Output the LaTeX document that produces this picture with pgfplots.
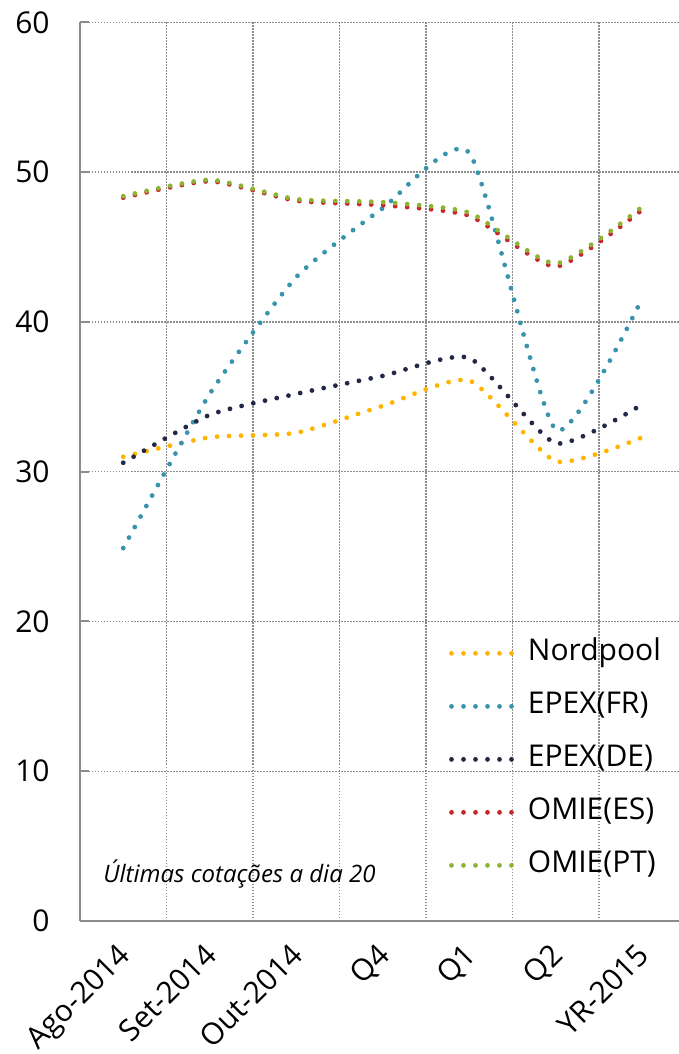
\documentclass[border=0pt]{standalone}
\usepackage{fontspec}
\setmainfont{Open Sans}
\usepackage{pgfplots}
\pgfplotsset{compat=1.18}
\usepackage{pgfplotstable}
\definecolor{cNord}{RGB}{255,180,0}
\definecolor{cFR}{RGB}{55,148,172}
\definecolor{cDE}{RGB}{35,40,70}
\definecolor{cES}{RGB}{200,40,45}
\definecolor{cPT}{RGB}{140,180,50}
\definecolor{gridgray}{RGB}{140,140,140}
\pgfplotstableread{
x nord fr de es pt
0 31.0 24.9 30.6 48.3 48.4
1 32.3 35.2 33.8 49.4 49.5
2 32.6 43.0 35.2 48.1 48.2
3 34.4 47.6 36.4 47.8 48.0
4 36.1 51.3 37.6 47.1 47.3
5 30.7 32.8 31.9 43.7 43.9
6 32.3 41.6 34.5 47.5 47.7
}\data
\begin{document}
\begin{tikzpicture}
\begin{axis}[name=ax, scale only axis, width=299.75pt, height=449.25pt,
  xmin=-0.5, xmax=6.43, ymin=0, ymax=60,
  axis x line*=bottom, axis y line*=left,
  axis line style={draw=gridgray, line width=1pt, -},
  xtick={0,...,6},
  xticklabels={Ago-2014,Set-2014,Out-2014,Q4,Q1,Q2,YR-2015},
  minor xtick={0.5,1.5,2.5,3.5,4.5,5.5},
  xtick style={draw=none},
  ytick={0,10,...,60},
  ytick style={draw=gridgray, line width=1pt},
  tick align=inside, major tick length=4.5pt,
  xminorgrids=true, ymajorgrids=true, xmajorgrids=false,
  minor x grid style={draw=gridgray, line width=0.75pt, dash pattern=on 0.75pt off 0.75pt},
  major y grid style={draw=gridgray, line width=0.75pt, dash pattern=on 0.75pt off 0.75pt},
  /pgf/number format/assume math mode=true,
  tick label style={font=\fontsize{15}{18}\selectfont},
  yticklabel style={anchor=east, inner sep=0pt, xshift=-15pt},
  xticklabel style={xshift=-3.5pt, yshift=-10pt, rotate=45, anchor=north east, inner sep=0pt},
  every axis plot/.append style={smooth, tension=0.34, line width=2.4pt, line cap=round, dash pattern=on 0pt off 6pt},
  legend image code/.code={\draw[#1] (0pt,0pt) -- (30.5pt,0pt);},
  legend cell align=left,
  legend style={draw=none, fill=none, at={(rel axis cs:0.615,0.315)}, anchor=north west,
    font=\fontsize{15}{18}\selectfont, row sep=11.5pt, column sep=6.5pt, inner sep=0pt,
    nodes={inner sep=0pt, text height=11pt, text depth=4pt}},
]
\addplot[cNord] table[x=x,y=nord]{\data};
\addlegendentry{Nordpool}
\addplot[cFR] table[x=x,y=fr]{\data};
\addlegendentry{EPEX(FR)}
\addplot[cDE] table[x=x,y=de]{\data};
\addlegendentry{EPEX(DE)}
\addplot[cES] table[x=x,y=es]{\data};
\addlegendentry{OMIE(ES)}
\addplot[cPT] table[x=x,y=pt]{\data};
\addlegendentry{OMIE(PT)}
\node[anchor=base west, inner sep=0pt, font=\fontsize{12}{14}\selectfont\itshape] at (rel axis cs:0.0384,0.0423) {Últimas cotações a dia 20};
\end{axis}
\pgfresetboundingbox
\path[use as bounding box] ([shift={(-40pt,-66.5pt)}]ax.south west) rectangle ++(339.5pt,527pt);
\end{tikzpicture}
\end{document}
